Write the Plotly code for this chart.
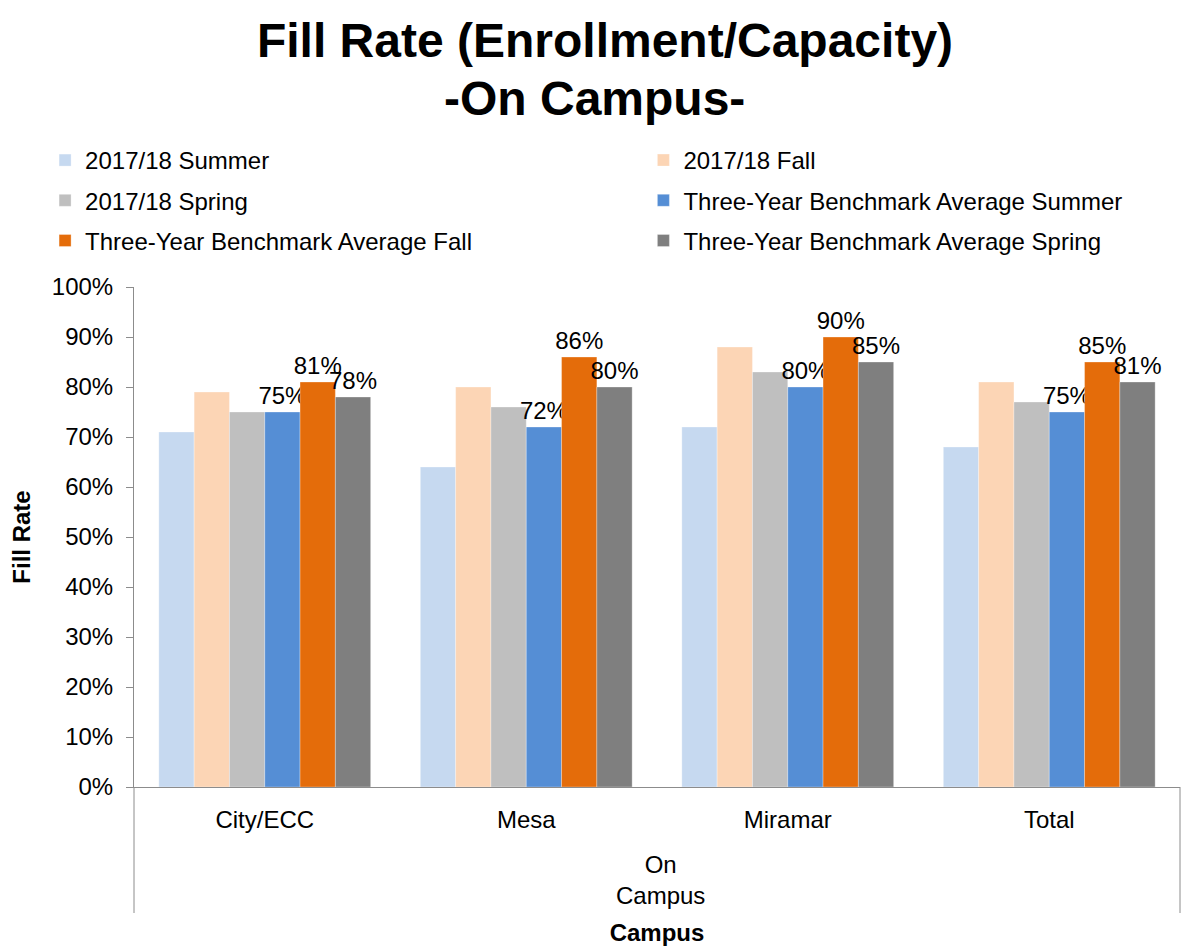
import plotly.graph_objects as go

campuses = ["City/ECC", "Mesa", "Miramar", "Total"]
group_label = "On<br>Campus"

summer_1718 = [71, 64, 72, 68]
fall_1718 = [79, 80, 88, 81]
spring_1718 = [75, 76, 83, 77]
bench_summer = [75, 72, 80, 75]
bench_fall = [81, 86, 90, 85]
bench_spring = [78, 80, 85, 81]

# (name, values, colour, labelled, legend column)
series = [
    ("2017/18 Summer", summer_1718, "#C6D9F0", False, "legend"),
    ("2017/18 Fall", fall_1718, "#FCD5B5", False, "legend2"),
    ("2017/18 Spring", spring_1718, "#BFBFBF", False, "legend"),
    ("Three-Year Benchmark Average Summer", bench_summer, "#558ED5", True, "legend2"),
    ("Three-Year Benchmark Average Fall", bench_fall, "#E46C0A", True, "legend"),
    ("Three-Year Benchmark Average Spring", bench_spring, "#7F7F7F", True, "legend2"),
]

FONT = "Liberation Sans, Arial, sans-serif"
AXIS_GREY = "#8C8C8C"

fig = go.Figure()
for i, (name, vals, color, labeled, leg) in enumerate(series):
    fig.add_trace(go.Bar(
        name=name,
        x=campuses,
        y=vals,
        legend=leg,
        legendgroup=f"g{i}",
        marker=dict(color=color, line=dict(color="rgba(255,255,255,0.6)", width=0.5)),
        text=[f"{v}%" for v in vals] if labeled else None,
        textposition="outside" if labeled else "none",
        textfont=dict(size=24, color="black", family=FONT),
        constraintext="none",
        cliponaxis=False,
    ))

legend_common = dict(
    orientation="v",
    yanchor="top",
    y=1.298,
    font=dict(size=24, family=FONT, color="black"),
    traceorder="grouped",
    tracegroupgap=6,
    bgcolor="rgba(0,0,0,0)",
    itemclick=False,
)

divider = dict(type="line", xref="paper", yref="paper", y0=0, y1=-0.252,
               line=dict(color=AXIS_GREY, width=1))

fig.update_layout(
    width=1194,
    height=947,
    paper_bgcolor="white",
    plot_bgcolor="white",
    font=dict(family=FONT, size=24, color="black"),
    title=dict(
        text="<b>Fill Rate (Enrollment/Capacity)</b>",
        xref="container", x=0.5, xanchor="center",
        yref="container", y=1 - 32 / 947, yanchor="middle",
        font=dict(size=48, family=FONT, color="black"),
    ),
    annotations=[
        dict(
            text="<b>-On Campus-</b>",
            xref="paper", yref="paper", x=0.4407, y=1.378,
            xanchor="center", yanchor="middle", showarrow=False,
            font=dict(size=48, family=FONT, color="black"),
        ),
        dict(
            text=group_label,
            xref="paper", yref="paper", x=0.503, y=-0.186,
            xanchor="center", yanchor="middle", showarrow=False,
            font=dict(size=24, family=FONT, color="black"),
        ),
    ],
    shapes=[dict(divider, x0=0, x1=0), dict(divider, x0=1, x1=1)],
    margin=dict(l=126, r=22, t=279, b=168),
    barmode="group",
    bargap=0.19,
    bargroupgap=0,
    showlegend=True,
    legend=dict(x=-0.085, xanchor="left", **legend_common),
    legend2=dict(x=0.487, xanchor="left", **legend_common),
    xaxis=dict(
        type="category",
        automargin=False,
        showline=True, linecolor=AXIS_GREY, linewidth=1,
        showgrid=False,
        ticks="",
        ticklabelstandoff=11,
        tickfont=dict(size=24, family=FONT),
        title=dict(text="<b>Campus</b>", font=dict(size=24, family=FONT), standoff=92),
    ),
    yaxis=dict(
        automargin=False,
        range=[0, 100], dtick=10, ticksuffix="%",
        showline=True, linecolor=AXIS_GREY, linewidth=1,
        ticks="outside", ticklen=7, tickcolor=AXIS_GREY,
        ticklabelstandoff=8,
        showgrid=False, zeroline=False,
        tickfont=dict(size=24, family=FONT),
        title=dict(text="<b>Fill Rate</b>", font=dict(size=24, family=FONT), standoff=14),
    ),
)

fig.write_html("out.html")
